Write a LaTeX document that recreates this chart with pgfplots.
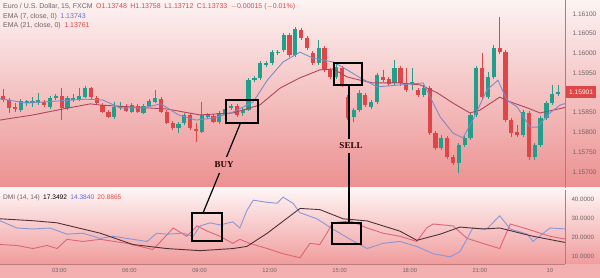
\documentclass[border=0pt]{standalone}
\usepackage{pgfplots}
\pgfplotsset{compat=1.18}
\usepackage{pgfplotstable}
\usepackage{fontspec}
\setmainfont{Liberation Sans}
\newfontfamily\annotfont{Liberation Serif}

\definecolor{bull}{RGB}{34,158,138}
\definecolor{bear}{RGB}{222,70,72}
\definecolor{emafast}{RGB}{128,138,200}
\definecolor{emaslow}{RGB}{176,70,90}
\definecolor{adxcol}{RGB}{80,48,56}
\definecolor{dipcol}{RGB}{138,150,214}
\definecolor{dimcol}{RGB}{222,100,122}
\definecolor{axisgray}{RGB}{160,130,130}
\definecolor{labelgray}{RGB}{112,100,100}
\definecolor{bgtop}{RGB}{253,243,243}
\definecolor{bgmid}{RGB}{245,194,194}
\definecolor{bgbot}{RGB}{236,144,144}
\definecolor{lowtop}{RGB}{254,246,246}
\definecolor{lowbot}{RGB}{240,156,156}
\definecolor{bandcol}{RGB}{244,176,176}

% 15-minute candles: index, open, high, low, close
\pgfplotstableread{
i O H L C
4 1.15856 1.15884 1.15851 1.15879
5 1.15874 1.15882 1.15867 1.15879
6 1.15874 1.15889 1.15864 1.15879
7 1.15874 1.15900 1.15869 1.15882
9 1.15864 1.15892 1.15859 1.15887
10 1.15887 1.15897 1.15882 1.15892
12 1.15862 1.15892 1.15856 1.15887
13 1.15882 1.15897 1.15877 1.15887
14 1.15882 1.15912 1.15879 1.15892
15 1.15889 1.15917 1.15887 1.15912
20 1.15839 1.15877 1.15834 1.15864
21 1.15862 1.15877 1.15856 1.15867
23 1.15851 1.15874 1.15849 1.15869
25 1.15849 1.15872 1.15846 1.15867
26 1.15867 1.15884 1.15864 1.15879
27 1.15877 1.15907 1.15874 1.15887
31 1.15811 1.15826 1.15798 1.15821
32 1.15824 1.15849 1.15818 1.15844
35 1.15801 1.15877 1.15798 1.15844
36 1.15839 1.15849 1.15834 1.15844
38 1.15826 1.15854 1.15821 1.15849
39 1.15844 1.15864 1.15839 1.15859
40 1.15862 1.15872 1.15856 1.15867
42 1.15849 1.15862 1.15841 1.15856
43 1.15856 1.15938 1.15854 1.15932
44 1.15932 1.15943 1.15927 1.15938
45 1.15938 1.15981 1.15932 1.15975
46 1.15970 1.15981 1.15965 1.15975
47 1.15975 1.16008 1.15970 1.16003
48 1.16001 1.16008 1.15996 1.16003
49 1.16008 1.16051 1.16003 1.16046
51 1.15996 1.16067 1.15991 1.16062
55 1.15975 1.16034 1.15970 1.16013
58 1.15940 1.15978 1.15935 1.15965
61 1.15839 1.15862 1.15826 1.15856
62 1.15856 1.15907 1.15851 1.15900
64 1.15864 1.15882 1.15859 1.15877
65 1.15877 1.15950 1.15872 1.15945
68 1.15925 1.15983 1.15920 1.15963
71 1.15922 1.15963 1.15907 1.15927
73 1.15894 1.15920 1.15889 1.15912
76 1.15760 1.15793 1.15755 1.15786
79 1.15722 1.15773 1.15697 1.15768
80 1.15768 1.15791 1.15763 1.15786
81 1.15786 1.15849 1.15780 1.15844
82 1.15844 1.15968 1.15839 1.15963
84 1.15889 1.15953 1.15884 1.15940
85 1.15940 1.16021 1.15935 1.16013
90 1.15793 1.15856 1.15788 1.15851
92 1.15737 1.15773 1.15730 1.15768
93 1.15768 1.15841 1.15763 1.15836
94 1.15836 1.15879 1.15831 1.15874
95 1.15874 1.15920 1.15869 1.15897
96 1.15897 1.15920 1.15892 1.15901
}\bullish

\pgfplotstableread{
i O H L C
1 1.15892 1.15910 1.15877 1.15882
2 1.15882 1.15887 1.15849 1.15862
3 1.15864 1.15874 1.15851 1.15859
8 1.15877 1.15882 1.15864 1.15869
11 1.15892 1.15912 1.15831 1.15862
16 1.15912 1.15915 1.15884 1.15889
17 1.15887 1.15892 1.15872 1.15874
18 1.15869 1.15874 1.15849 1.15851
19 1.15851 1.15856 1.15836 1.15839
22 1.15867 1.15872 1.15851 1.15854
24 1.15867 1.15872 1.15849 1.15851
28 1.15884 1.15889 1.15849 1.15851
29 1.15851 1.15856 1.15821 1.15824
30 1.15824 1.15829 1.15806 1.15811
33 1.15844 1.15849 1.15806 1.15811
34 1.15808 1.15824 1.15775 1.15803
37 1.15841 1.15846 1.15824 1.15826
41 1.15867 1.15872 1.15839 1.15844
50 1.16046 1.16051 1.15991 1.15996
52 1.16059 1.16064 1.16034 1.16039
53 1.16039 1.16044 1.16008 1.16013
54 1.16001 1.16006 1.15970 1.15975
56 1.16013 1.16019 1.15953 1.15958
57 1.15958 1.15963 1.15935 1.15940
59 1.15963 1.15968 1.15915 1.15920
60 1.15889 1.15894 1.15831 1.15836
63 1.15894 1.15900 1.15864 1.15869
66 1.15940 1.15958 1.15927 1.15932
67 1.15935 1.15940 1.15917 1.15922
69 1.15963 1.15968 1.15917 1.15925
70 1.15925 1.15963 1.15902 1.15907
72 1.15907 1.15912 1.15889 1.15894
74 1.15912 1.15917 1.15793 1.15798
75 1.15798 1.15803 1.15755 1.15760
77 1.15786 1.15791 1.15732 1.15737
78 1.15737 1.15743 1.15717 1.15722
83 1.15963 1.16001 1.15884 1.15889
86 1.16013 1.16092 1.15998 1.16003
87 1.16003 1.16008 1.15826 1.15831
88 1.15831 1.15836 1.15788 1.15798
89 1.15801 1.15818 1.15788 1.15793
91 1.15849 1.15854 1.15730 1.15737
}\bearish

% EMA(7) and EMA(21) of the close
\pgfplotstableread{
i v
0.44 1.15885
5 1.15874
10 1.15879
15 1.15884
18 1.15882
21 1.15862
25 1.15862
28 1.15872
31 1.15844
34 1.15831
37 1.15836
40.3 1.15851
43.8 1.15877
46.2 1.15932
48.9 1.15978
51.8 1.16003
54.0 1.15988
57.5 1.15978
59.9 1.15958
62.1 1.15938
65.0 1.15915
68.9 1.15920
72.9 1.15925
74.1 1.15889
75.8 1.15839
78.0 1.15798
79.7 1.15786
81.4 1.15831
83.8 1.15907
85.7 1.15932
87.2 1.15882
89.0 1.15864
91.2 1.15813
92.4 1.15813
94.6 1.15849
96.3 1.15869
97.5 1.15874
}\emafast

\pgfplotstableread{
i v
0.44 1.15831
6.09 1.15844
11.2 1.15859
15.9 1.15872
17.6 1.15869
23.2 1.15864
29.0 1.15859
34.7 1.15844
40.3 1.15849
44.9 1.15869
48.4 1.15912
51.8 1.15938
55.2 1.15958
57.5 1.15960
59.9 1.15940
62.1 1.15932
64.3 1.15925
68.9 1.15925
72.4 1.15920
75.3 1.15900
78.0 1.15874
80.9 1.15849
82.6 1.15856
86.0 1.15889
87.8 1.15877
90.7 1.15862
92.9 1.15849
95.1 1.15856
97.5 1.15864
}\emaslow

% DMI(14,14): ADX, +DI, -DI
\pgfplotstableread{
i v
0.44 29.8
6.1 28.8
10.2 27.7
17.6 22.3
23.2 16.4
29.0 14.3
34.7 13.2
40.3 14.3
42.7 15.4
46.2 22.3
51.8 35.2
55.2 34.6
59.2 29.8
63.3 28.7
68.9 23.4
71.8 18.6
75.8 21.8
79.2 25.5
83.1 24.5
86.0 25.0
91.7 20.7
97.5 17.3
}\adx

\pgfplotstableread{
i v
0.44 28.75
3.35 25.0
6.09 24.5
9.0 25.0
11.9 21.8
14.6 22.3
17.6 19.6
19.8 20.7
23.2 19.1
25.6 18.0
27.3 22.3
29.0 21.8
31.8 22.3
33.5 20.7
34.7 26.1
36.4 27.7
38.1 26.6
40.3 28.2
41.5 25.0
42.7 34.1
43.8 39.5
46.2 38.4
47.9 37.9
48.9 41.1
50.6 37.9
51.8 33.0
54.7 29.8
57.4 24.5
60.4 19.1
63.3 14.3
66.0 17.0
68.9 18.0
71.8 15.4
74.6 11.6
77.5 10.0
79.2 12.7
81.4 25.0
83.8 24.5
86.0 31.4
87.8 24.5
90.7 21.8
91.7 18.0
94.6 25.0
97.5 24.5
}\diplus

\pgfplotstableread{
i v
0.44 16.4
3.35 15.9
6.09 14.3
8.48 15.9
10.2 14.3
11.9 19.1
14.6 18.0
17.6 19.1
22.2 17.0
24.4 15.4
26.6 13.8
28.3 19.1
30.1 25.0
32.4 20.7
34.2 26.1
35.9 23.4
38.1 20.7
40.3 17.0
41.5 19.1
43.2 17.0
46.2 14.3
48.9 11.6
51.8 9.5
53.5 17.0
55.2 16.4
56.4 22.3
57.4 27.7
60.4 28.75
63.3 25.0
66.0 22.3
68.9 20.7
71.8 18.0
73.5 25.0
74.6 27.1
78.0 26.1
80.4 19.6
83.1 17.0
86.0 14.3
87.8 27.1
90.7 24.5
94.6 20.7
97.5 19.1
}\diminus

\pgfplotsset{
  candlewick/.style={draw=none, mark=none, forget plot,
    error bars/.cd, y dir=plus, y explicit, error mark=none,
    error bar style={draw=#1, line width=0.8pt}},
  candlebody/.style={draw=none, mark=none, forget plot,
    error bars/.cd, y dir=plus, y explicit, error mark=none,
    error bar style={draw=#1, line width=4.2pt}},
}

\begin{document}
\begin{tikzpicture}[x=1pt,y=1pt]
\useasboundingbox (0,0) rectangle (600,278);
% panel backgrounds
\shade[top color=bgtop, middle color=bgmid, bottom color=bgbot] (0,90) rectangle (600,278);
\shade[top color=lowtop, bottom color=lowbot] (0,14) rectangle (600,90);
\fill[bandcol] (0,0) rectangle (600,14);
\draw[lowbot!80!black, line width=0.5pt] (0,14) -- (565,14);

% price panel
\begin{axis}[
  at={(0pt,90pt)}, anchor=south west,
  scale only axis, width=565pt, height=188pt,
  xmin=0.435, xmax=97.18,
  ymin=1.15659, ymax=1.16135,
  axis x line=none,
  axis y line*=right,
  y axis line style={draw=axisgray, line width=0.6pt},
  major tick length=0pt,
  ytick={1.157,1.1575,1.158,1.1585,1.1595,1.16,1.1605,1.161},
  yticklabels={1.15700,1.15750,1.15800,1.15850,1.15950,1.16000,1.16050,1.16100},
  yticklabel style={font=\fontsize{6.6}{7}\selectfont, text=labelgray, anchor=west, xshift=4pt},
]
\addplot[candlewick=bull] table[x=i, y=L, y error plus expr=\thisrow{H}-\thisrow{L}] {\bullish};
\addplot[candlewick=bear] table[x=i, y=L, y error plus expr=\thisrow{H}-\thisrow{L}] {\bearish};
\addplot[candlebody=bull] table[x=i, y=O, y error plus expr=\thisrow{C}-\thisrow{O}] {\bullish};
\addplot[candlebody=bear] table[x=i, y=C, y error plus expr=\thisrow{O}-\thisrow{C}] {\bearish};
\addplot[emaslow, line width=0.9pt, mark=none] table[x=i, y=v] {\emaslow};
\addplot[emafast, line width=0.9pt, mark=none] table[x=i, y=v] {\emafast};
\end{axis}

% DMI panel
\begin{axis}[
  at={(0pt,14pt)}, anchor=south west,
  scale only axis, width=565pt, height=74pt,
  xmin=0.435, xmax=97.18,
  ymin=6.25, ymax=44.82,
  axis x line*=bottom,
  axis y line*=right,
  x axis line style={draw=none},
  y axis line style={draw=axisgray, line width=0.6pt},
  major tick length=0pt,
  ytick={10,20,30,40},
  yticklabels={10.0000,20.0000,30.0000,40.0000},
  yticklabel style={font=\fontsize{6.2}{7}\selectfont, text=labelgray, anchor=west, xshift=3pt},
  xtick={10.6,22.6,34.6,46.6,58.6,70.6,82.6,94.6},
  xticklabels={03:00,06:00,09:00,12:00,15:00,18:00,21:00,10},
  xticklabel style={font=\fontsize{5.8}{6}\selectfont, text=labelgray, anchor=center, yshift=-7pt},
]
\addplot[dimcol, line width=0.9pt, mark=none] table[x=i, y=v] {\diminus};
\addplot[dipcol, line width=0.9pt, mark=none] table[x=i, y=v] {\diplus};
\addplot[adxcol, line width=0.9pt, mark=none] table[x=i, y=v] {\adx};
\end{axis}

% last price tag
\node[fill=bear, text=white, font=\fontsize{6.6}{7}\selectfont, anchor=west,
      inner xsep=3pt, minimum height=11pt] at (566,186) {1.15901};

% legends
\node[anchor=west, inner sep=0pt, font=\fontsize{7}{8}\selectfont, text=labelgray] at (3,271.5)
  {Euro / U.S. Dollar, 15, FXCM\enspace
   \textcolor{bear}{O1.13748}\enspace \textcolor{bear}{H1.13758}\enspace
   \textcolor{bear}{L1.13712}\enspace \textcolor{bear}{C1.13733}\enspace
   \textcolor{bear}{$-$0.00015 ($-$0.01\%)}};
\node[anchor=west, inner sep=0pt, font=\fontsize{7}{8}\selectfont, text=labelgray] at (3,261.5)
  {EMA (7, close, 0)\enspace \textcolor{emafast!80!blue}{1.13743}};
\node[anchor=west, inner sep=0pt, font=\fontsize{7}{8}\selectfont, text=labelgray] at (3,252)
  {EMA (21, close, 0)\enspace \textcolor{bear}{1.13761}};
\node[anchor=west, inner sep=0pt, font=\fontsize{6.6}{8}\selectfont, text=labelgray] at (3,80)
  {DMI (14, 14)\enspace \textcolor{black}{17.3492}\enspace
   \textcolor{dipcol!70!blue}{14.3840}\enspace \textcolor{bear}{20.8865}};

% buy / sell call-outs
\draw[black, line width=1.4pt] (226,155) rectangle (258,178);
\draw[black, line width=1.4pt] (192,37) rectangle (222,65);
\draw[black, line width=1.2pt] (240.5,155) -- (226.5,121);
\draw[black, line width=1.2pt] (219.5,105) -- (203,65);
\node[font=\annotfont\bfseries\fontsize{9}{10}\selectfont, text=black!85!red] at (224,113) {BUY};

\draw[black, line width=1.4pt] (334,193) rectangle (362,215);
\draw[black, line width=1.4pt] (332,34) rectangle (361,55);
\draw[black, line width=1.2pt] (349,193) -- (349,139);
\draw[black, line width=1.2pt] (349,125) -- (349,55);
\node[font=\annotfont\bfseries\fontsize{9}{10}\selectfont, text=black!85!red] at (351,132) {SELL};
\end{tikzpicture}
\end{document}
